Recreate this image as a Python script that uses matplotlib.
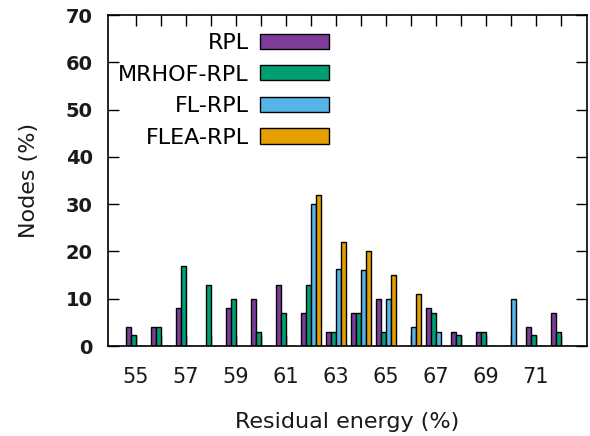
import matplotlib
matplotlib.use('Agg')
from matplotlib import pyplot as plt
import numpy as np

# residual energy buckets (%)
energy = [55, 56, 57, 58, 59, 60, 61, 62, 63, 64, 65, 66, 67, 68, 69, 70, 71, 72]

# share of nodes (%) per protocol
rpl = [4, 4, 8, 0, 8, 10, 13, 7, 3, 7, 10, 0, 8, 3, 3, 0, 4, 7]
mrhof = [2.3, 4, 17, 13, 10, 3, 7, 13, 3, 7, 3, 0, 7, 2.3, 3, 0, 2.3, 3]
fl = [0, 0, 0, 0, 0, 0, 0, 30, 16.3, 16, 10, 4, 3, 0, 0, 10, 0, 0]
flea = [0, 0, 0, 0, 0, 0, 0, 32, 22, 20, 15, 11, 0, 0, 0, 0, 0, 0]

series = [rpl, mrhof, fl, flea]
labels = ['RPL', 'MRHOF-RPL', 'FL-RPL', 'FLEA-RPL']
colors = ['#7e3c9a', '#009e73', '#56b4e9', '#e69f00']

plt.rcParams['font.family'] = ['DejaVu Sans']
txt = '#1a1a1a'

fig = plt.figure(figsize=(5.9, 4.36), dpi=100)
ax = fig.add_axes([108 / 590, 1 - 346 / 436, (587 - 108) / 590, (346 - 15) / 436])

x = np.arange(len(energy))
width = 0.2
for i, (vals, lab, col) in enumerate(zip(series, labels, colors)):
    offs = (i - 1.5) * width
    ax.bar(x + offs, vals, width=width, color=col, edgecolor='black',
           linewidth=1.0, label=lab, zorder=2)

ax.set_xlim(-1.1, len(energy) - 1 + 1.06)
ax.set_ylim(0, 70)
ax.set_yticks(range(0, 71, 10))
ax.set_xticks(x)
ax.set_xticklabels([str(e) if e % 2 == 1 else '' for e in energy])

ax.tick_params(axis='both', direction='in', length=8, width=1.0,
               top=True, right=True, colors='black', labelcolor=txt)
ax.tick_params(axis='x', labelsize=15, pad=15)
ax.tick_params(axis='y', labelsize=14, pad=11)
for t in ax.get_yticklabels():
    t.set_fontweight('bold')
for s in ax.spines.values():
    s.set_linewidth(1.2)

ax.set_xlabel('Residual energy (%)', fontsize=16, color=txt, labelpad=18)
ax.set_ylabel('Nodes (%)', fontsize=16, color=txt, labelpad=19)

fig.legend(loc='upper right', bbox_to_anchor=(329 / 590, 1 - 33 / 436),
           frameon=False, markerfirst=False, fontsize=16,
           handlelength=3.1, handleheight=0.68, handletextpad=0.5,
           labelspacing=0.52, borderpad=0, borderaxespad=0)

plt.savefig('out.png', dpi=100)
